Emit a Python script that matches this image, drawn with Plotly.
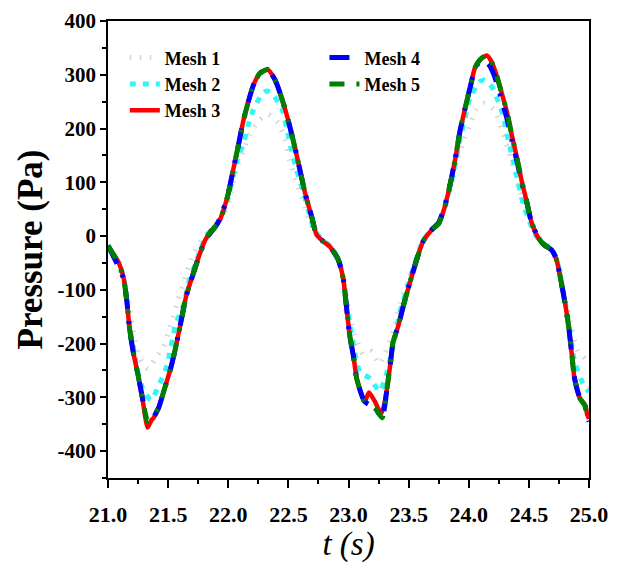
import plotly.graph_objects as go

# ---------------- data ----------------
t_mesh3 = [21.00, 21.05, 21.09, 21.13, 21.155, 21.18, 21.21, 21.25, 21.29, 21.33, 21.36, 21.38,
           21.42, 21.47, 21.52, 21.56, 21.60, 21.65, 21.71, 21.765, 21.81, 21.86, 21.89, 21.93,
           21.96, 22.00, 22.04, 22.08, 22.125, 22.167, 22.21, 22.264, 22.33, 22.39, 22.444, 22.50,
           22.555, 22.597, 22.64, 22.694, 22.735, 22.79, 22.846, 22.915, 22.957, 22.985, 23.01,
           23.04, 23.068, 23.11, 23.135, 23.17, 23.22, 23.27, 23.29, 23.32, 23.35, 23.37, 23.414,
           23.456, 23.51, 23.567, 23.62, 23.69, 23.75, 23.80, 23.84, 23.885, 23.927, 23.97, 24.01,
           24.05, 24.09, 24.15, 24.19, 24.23, 24.27, 24.316, 24.357, 24.40, 24.44, 24.48, 24.52,
           24.58, 24.63, 24.69, 24.73, 24.77, 24.80, 24.83, 24.855, 24.88, 24.925, 24.967, 24.986, 25.00]
p_mesh3 = [-18, -35, -50, -78, -118, -173, -216, -259, -308, -356, -343, -338,
           -320, -284, -247, -210, -167, -112, -69, -32, -7, 10, 17, 30,
           48, 79, 122, 164, 214, 250, 281, 303, 309, 290, 257, 214,
           164, 122, 79, 36, 2, -10, -20, -44, -81, -136, -185,
           -222, -265, -296, -308, -291, -308, -330, -320, -284, -234, -198, -167,
           -130, -87, -44, -10, 11, 23, 54, 91, 140, 195, 238, 275,
           312, 327, 336, 324, 300, 269, 232, 189, 146, 103, 66, 27,
           -4, -17, -26, -44, -87, -124, -167, -216, -265, -302, -314, -333, -340]

t_mesh4 = [21.00, 21.05, 21.09, 21.13, 21.155, 21.18, 21.21, 21.25, 21.29, 21.32, 21.35, 21.38,
           21.42, 21.47, 21.52, 21.56, 21.60, 21.65, 21.71, 21.765, 21.81, 21.86, 21.89, 21.93,
           21.96, 22.00, 22.04, 22.08, 22.125, 22.167, 22.21, 22.264, 22.33, 22.39, 22.444, 22.50,
           22.555, 22.597, 22.64, 22.694, 22.735, 22.79, 22.846, 22.915, 22.957, 22.985, 23.01,
           23.04, 23.068, 23.11, 23.135, 23.22, 23.28, 23.30, 23.32, 23.35, 23.37, 23.414,
           23.456, 23.51, 23.567, 23.62, 23.69, 23.75, 23.80, 23.84, 23.885, 23.927, 23.97, 24.01,
           24.05, 24.09, 24.12, 24.17, 24.21, 24.25, 24.29, 24.316, 24.357, 24.40, 24.44, 24.48, 24.52,
           24.58, 24.63, 24.69, 24.73, 24.77, 24.80, 24.83, 24.855, 24.88, 24.925, 24.967, 24.986, 25.00]
p_mesh4 = [-18, -40, -58, -80, -118, -173, -216, -259, -305, -338, -342, -336,
           -320, -284, -247, -210, -167, -112, -69, -32, -7, 8, 16, 32,
           50, 79, 122, 164, 214, 250, 281, 303, 309, 290, 257, 214,
           164, 122, 79, 36, 2, -10, -20, -44, -81, -136, -185,
           -222, -265, -296, -308, -320, -338, -318, -284, -234, -198, -167,
           -130, -87, -44, -10, 11, 25, 56, 91, 140, 195, 238, 275,
           310, 325, 327, 318, 300, 272, 240, 220, 180, 140, 100, 66, 27,
           -4, -17, -26, -44, -87, -124, -167, -216, -265, -302, -316, -336, -345]

t_mesh5 = [21.00, 21.05, 21.09, 21.13, 21.155, 21.18, 21.21, 21.25, 21.29, 21.33, 21.36, 21.38,
           21.42, 21.47, 21.52, 21.56, 21.60, 21.65, 21.71, 21.765, 21.81, 21.86, 21.89, 21.93,
           21.96, 22.00, 22.04, 22.08, 22.125, 22.167, 22.21, 22.264, 22.33, 22.39, 22.444, 22.50,
           22.555, 22.597, 22.64, 22.694, 22.735, 22.79, 22.846, 22.915, 22.957, 22.985, 23.01,
           23.04, 23.068, 23.11, 23.135, 23.22, 23.28, 23.30, 23.32, 23.35, 23.37, 23.414,
           23.456, 23.51, 23.567, 23.62, 23.69, 23.75, 23.80, 23.84, 23.885, 23.927, 23.97, 24.01,
           24.05, 24.09, 24.15, 24.19, 24.23, 24.27, 24.316, 24.357, 24.40, 24.44, 24.48, 24.52,
           24.58, 24.63, 24.69, 24.73, 24.77, 24.80, 24.83, 24.855, 24.88, 24.925, 24.967, 24.986, 25.00]
p_mesh5 = [-18, -36, -52, -79, -118, -173, -216, -259, -306, -345, -340, -334,
           -320, -284, -247, -210, -167, -112, -69, -32, -7, 10, 17, 30,
           48, 79, 122, 164, 214, 250, 281, 303, 310, 290, 257, 214,
           164, 122, 79, 36, 2, -10, -20, -44, -81, -136, -185,
           -222, -265, -296, -308, -320, -338, -318, -284, -234, -198, -167,
           -130, -87, -44, -10, 11, 23, 54, 91, 140, 195, 238, 275,
           312, 327, 337, 324, 300, 269, 232, 189, 146, 103, 66, 27,
           -4, -17, -26, -44, -87, -124, -167, -216, -265, -302, -316, -336, -342]

t_mesh2 = [21.00, 21.05, 21.09, 21.13, 21.155, 21.18, 21.21, 21.24, 21.29, 21.357, 21.43, 21.49,
           21.56, 21.63, 21.67, 21.72, 21.77, 21.81, 21.86, 21.90, 21.96, 22.00, 22.04, 22.08,
           22.125, 22.167, 22.21, 22.278, 22.32, 22.36, 22.444, 22.486, 22.527, 22.57, 22.62, 22.67,
           22.72, 22.79, 22.846, 22.915, 22.957, 22.985, 23.02, 23.06, 23.096, 23.18, 23.26, 23.32,
           23.36, 23.40, 23.43, 23.47, 23.51, 23.567, 23.62, 23.69, 23.75, 23.80, 23.84, 23.885,
           23.927, 23.97, 24.01, 24.09, 24.13, 24.19, 24.246, 24.29, 24.33, 24.37, 24.41, 24.45,
           24.50, 24.56, 24.63, 24.69, 24.73, 24.77, 24.80, 24.83, 24.855, 24.88, 24.95, 25.00]
p_mesh2 = [-18, -35, -50, -78, -118, -170, -205, -245, -284, -305, -274, -241,
           -167, -127, -87, -55, -25, -3, 12, 20, 45, 72, 110, 145,
           171, 207, 235, 263, 270, 266, 238, 201, 158, 122, 85, 45,
           10, -8, -18, -42, -78, -125, -175, -225, -253, -265, -289, -253,
           -216, -173, -139, -110, -80, -40, -8, 12, 24, 52, 85, 130,
           180, 220, 257, 287, 290, 278, 250, 220, 177, 140, 100, 62,
           30, 0, -15, -24, -42, -85, -120, -160, -198, -234, -274, -290]

t_mesh1 = [21.00, 21.05, 21.09, 21.13, 21.16, 21.19, 21.22, 21.25, 21.28, 21.335, 21.40, 21.46,
           21.50, 21.54, 21.585, 21.63, 21.67, 21.72, 21.77, 21.82, 21.87, 21.92, 21.97, 22.02,
           22.07, 22.125, 22.18, 22.25, 22.33, 22.416, 22.47, 22.51, 22.555, 22.60, 22.65, 22.70,
           22.76, 22.82, 22.88, 22.93, 22.97, 23.01, 23.05, 23.096, 23.12, 23.18, 23.22, 23.26,
           23.29, 23.35, 23.39, 23.43, 23.47, 23.50, 23.56, 23.62, 23.69, 23.75, 23.80, 23.85,
           23.913, 23.955, 24.01, 24.066, 24.135, 24.22, 24.27, 24.316, 24.37, 24.42, 24.47, 24.52,
           24.58, 24.65, 24.70, 24.74, 24.78, 24.82, 24.86, 24.91, 24.967, 25.00]
p_mesh1 = [-18, -33, -48, -75, -110, -150, -190, -216, -234, -247, -225, -207,
           -179, -152, -118, -87, -56, -30, -10, 5, 15, 25, 45, 75,
           128, 158, 189, 214, 226, 210, 180, 140, 109, 80, 45, 15,
           -5, -15, -30, -55, -95, -145, -185, -207, -219, -213, -225, -238,
           -225, -192, -161, -124, -100, -81, -45, -12, 10, 22, 50, 90,
           146, 177, 207, 235, 247, 232, 201, 171, 128, 90, 55, 25,
           -2, -15, -28, -50, -90, -135, -175, -216, -228, -240]

series_names = ["Mesh 1", "Mesh 2", "Mesh 3", "Mesh 4", "Mesh 5"]
x_tickvals = [21.0, 21.5, 22.0, 22.5, 23.0, 23.5, 24.0, 24.5, 25.0]
x_ticktext = ["21.0", "21.5", "22.0", "22.5", "23.0", "23.5", "24.0", "24.5", "25.0"]
y_tickvals = [400, 300, 200, 100, 0, -100, -200, -300, -400]
y_ticktext = ["400", "300", "200", "100", "0", "-100", "-200", "-300", "-400"]

# ---------------- figure ----------------
SERIF = "Liberation Serif, Times New Roman, serif"

styles = [
    dict(color="#d4d4d4", width=5, dash="1.5px,8.5px"),
    dict(color="#33f5f5", width=5, dash="6px,7px"),
    dict(color="#ff0000", width=4.5, dash="solid"),
    dict(color="#0000ff", width=5, dash="20px,12px,3px,12px"),
    dict(color="#008000", width=5, dash="15px,12px,3px,12px"),
]
data = [(t_mesh1, p_mesh1), (t_mesh2, p_mesh2), (t_mesh3, p_mesh3),
        (t_mesh4, p_mesh4), (t_mesh5, p_mesh5)]
legend_ids = ["legend", "legend", "legend", "legend2", "legend2"]

fig = go.Figure()
for (tx, py), name, st, lg in zip(data, series_names, styles, legend_ids):
    fig.add_trace(go.Scatter(
        x=tx, y=py, mode="lines", name=name, legend=lg,
        line=dict(color=st["color"], width=st["width"], dash=st["dash"],
                  shape="spline", smoothing=0.6),
    ))

legend_font = dict(family=SERIF, size=18, color="black", weight="bold")
fig.update_layout(
    width=611, height=555,
    margin=dict(l=100, r=30, t=13, b=85, autoexpand=False),
    paper_bgcolor="white", plot_bgcolor="white",
    showlegend=True,
    legend=dict(x=0.035, y=0.96, xanchor="left", yanchor="top",
                bgcolor="rgba(0,0,0,0)", borderwidth=0, font=legend_font,
                tracegroupgap=0, itemwidth=30),
    legend2=dict(x=0.45, y=0.96, xanchor="left", yanchor="top",
                 bgcolor="rgba(0,0,0,0)", borderwidth=0, font=legend_font,
                 tracegroupgap=0, itemwidth=30),
)
fig.update_xaxes(
    range=[21, 25], tickvals=x_tickvals, ticktext=x_ticktext, automargin=False,
    ticklabeloverflow="allow",
    showline=True, linecolor="black", linewidth=1.5, mirror=True,
    ticks="outside", ticklen=8, tickwidth=1.5, tickcolor="black", ticklabelstandoff=8,
    minor=dict(ticks="outside", ticklen=4, tickwidth=1.5, tickcolor="black", dtick=0.25, showgrid=False),
    showgrid=False, zeroline=False,
    tickfont=dict(family=SERIF, size=22, color="black", weight="bold"),
    title=dict(text="t (s)", standoff=4,
               font=dict(family=SERIF, size=33, color="black", style="italic")),
)
fig.update_yaxes(
    range=[-450, 400], tickvals=y_tickvals, ticktext=y_ticktext, automargin=False,
    ticklabeloverflow="allow",
    showline=True, linecolor="black", linewidth=1.5, mirror=True,
    ticks="outside", ticklen=6, tickwidth=1.5, tickcolor="black",
    minor=dict(ticks="outside", ticklen=4, tickwidth=1.5, tickcolor="black", dtick=50, tick0=0, showgrid=False),
    showgrid=False, zeroline=False,
    tickfont=dict(family=SERIF, size=21, color="black", weight="bold"),
    title=dict(text="Pressure (Pa)", standoff=4,
               font=dict(family=SERIF, size=35, color="black", weight="bold")),
)

fig.write_html("out.html")
